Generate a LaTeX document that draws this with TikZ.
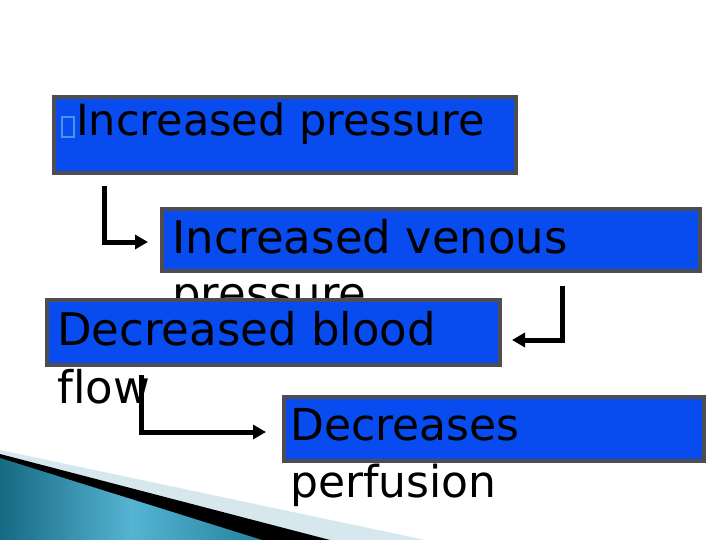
\documentclass[tikz,border=0pt]{standalone}
\usepackage{fontspec}
\setmainfont[Ligatures={NoCommon}]{DejaVu Sans}
\usetikzlibrary{arrows.meta}
\definecolor{boxblue}{RGB}{8,76,240}
\definecolor{boxgray}{RGB}{78,78,82}
\definecolor{tealdark}{RGB}{22,105,130}
\definecolor{tealmid}{RGB}{85,180,210}
\definecolor{tealend}{RGB}{35,130,160}
\definecolor{palestripe}{RGB}{214,231,238}
\definecolor{tofublue}{RGB}{70,150,235}
\begin{document}
\begin{tikzpicture}[x=1pt,y=-1pt,
  box/.style={draw=boxgray,line width=4pt,fill=boxblue,inner sep=0pt,rectangle},
  txt/.style={anchor=base west,inner sep=0pt,font=\fontsize{44}{52}\selectfont},
  arr/.style={line width=5pt,-{Triangle[length=13pt,width=14pt]}}]
\useasboundingbox[fill=white] (0,0) rectangle (720,540);
% decoration
\fill[palestripe] (0,450) -- (425,540) -- (0,540) -- cycle;
\fill[black] (0,454) -- (330,540) -- (0,540) -- cycle;
\shade[left color=tealdark,right color=tealend,middle color=tealmid] (0,458) -- (262,540) -- (0,540) -- cycle;
% box 1
\node[box,minimum width=462pt,minimum height=76pt] (b1) at (285,135) {};
\node[draw=tofublue,line width=1.2pt,minimum width=12pt,minimum height=20pt,inner sep=0pt] (tofu) at (68,127) {};
\node[txt,font=\fontsize{43}{52}\selectfont] (t1) at (76,136) {Increased pressure};
% box 2
\node[box,minimum width=538pt,minimum height=62pt] (b2) at (431,240) {};
\node[txt,font=\fontsize{45}{52}\selectfont] (t2a) at (172,253) {Increased venous};
\node[txt,font=\fontsize{45}{52}\selectfont] (t2b) at (172,309) {pressure};
% box 3
\node[box,minimum width=453pt,minimum height=65pt] (b3) at (273.5,332.5) {};
\node[txt,font=\fontsize{45}{52}\selectfont] (t3a) at (57,345) {Decreased blood};
\node[txt,font=\fontsize{45}{52}\selectfont] (t3b) at (57,403) {flow};
% box 4
\node[box,minimum width=420pt,minimum height=64pt] (b4) at (494,429) {};
\node[txt] (t4a) at (290,440) {Decreases};
\node[txt] (t4b) at (290,497) {perfusion};
% arrows
\draw[arr] ([xshift=52pt,yshift=-11pt]b1.south west) |- ([xshift=-12pt,yshift=-2pt]b2.west);
\draw[arr] ([xshift=-140pt,yshift=-13pt]b2.south east) |- ([xshift=10pt,yshift=-7.5pt]b3.east);
\draw[arr] ([xshift=96pt,yshift=-8pt]b3.south west) |- ([xshift=-16pt,yshift=-3pt]b4.west);
\end{tikzpicture}
\end{document}
